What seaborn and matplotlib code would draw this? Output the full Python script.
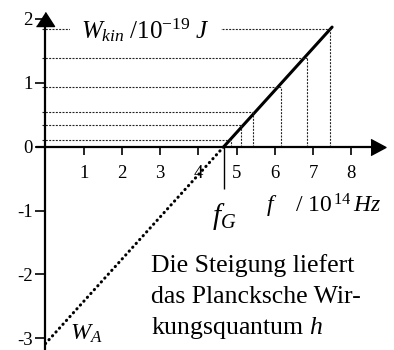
import pandas as pd
import seaborn as sns
import matplotlib.pyplot as plt

# Photoelectric effect: light frequency (10^14 Hz) vs. maximum kinetic energy (10^-19 J)
freq = [4.85, 5.11, 5.43, 6.15, 6.84, 7.44]
w_kin = [0.10, 0.34, 0.54, 0.93, 1.39, 1.83]

f_limit = 4.67     # threshold frequency f_G
w_work = -3.08     # work function W_A (intercept)
f_end = 7.50       # end of the drawn straight line

x_ticks = [1, 2, 3, 4, 5, 6, 7, 8]
y_ticks = [-3, -2, -1, 0, 1, 2]
y_tick_labels = ["-3", "-2", "-1", "0", "1", "2"]

sns.set_theme(style="white")
plt.rcParams["font.family"] = ["Liberation Serif", "DejaVu Serif"]
plt.rcParams["mathtext.fontset"] = "custom"
plt.rcParams["mathtext.rm"] = "Liberation Serif"
plt.rcParams["mathtext.it"] = "Liberation Serif:italic"
plt.rcParams["text.color"] = "black"

fig = plt.figure(figsize=(3.94, 3.5), dpi=100)
ax = fig.add_axes([0, 0, 1, 1])

# straight line W = h*f - W_A: solid above threshold, dotted extrapolation below
slope = -w_work / f_limit
solid = pd.DataFrame({"f": [f_limit, f_end], "W": [0.0, slope * (f_end - f_limit)]})
dotted = pd.DataFrame({"f": [0.0, f_limit], "W": [w_work, 0.0]})
sns.lineplot(data=solid, x="f", y="W", color="black", lw=2.2, ax=ax,
             solid_capstyle="round")
sns.lineplot(data=dotted, x="f", y="W", color="black", lw=2.2, ax=ax,
             linestyle=(0, (0.1, 1.6)), dash_capstyle="round")

# dashed guides to each measured point
guide = dict(color="#222222", lw=0.8, linestyles=(0, (1.8, 1.2)))
ax.hlines(w_kin, -0.08, freq, **guide)
ax.vlines(freq, 0, w_kin, **guide)

# threshold marker
ax.vlines(f_limit, -0.66, 0, color="black", lw=1.0)

ax.set_xlim(-1.19, 9.12)
ax.set_ylim(-3.18, 2.29)
ax.set_xlabel("")
ax.set_ylabel("")

# axes through the origin with arrow heads
for side in ["top", "right"]:
    ax.spines[side].set_visible(False)
for side in ["left", "bottom"]:
    ax.spines[side].set_position(("data", 0))
    ax.spines[side].set_color("black")
    ax.spines[side].set_linewidth(1.6)
ax.spines["left"].set_bounds(-3.4, 2.0)
ax.spines["bottom"].set_bounds(-0.22, 8.69)
head_right = [(-0.75, -0.8), (0.75, 0.0), (-0.75, 0.8)]
head_up = [(-0.9, -0.7), (0.9, -0.7), (0.0, 0.7)]
ax.plot(8.71, 0, marker=head_right, ms=11.5, color="black", clip_on=False)
ax.plot(0, 2.0, marker=head_up, ms=13, color="black", clip_on=False)

ax.set_xticks(x_ticks)
ax.set_yticks(y_ticks, y_tick_labels)
ax.tick_params(axis="x", bottom=True, direction="out", length=6, width=1.2,
               pad=7, labelsize=13.5, colors="black")
ax.tick_params(axis="y", left=True, direction="out", length=7.5, width=1.2,
               pad=1.5, labelsize=13.5, colors="black")

# annotations
ax.text(0.93, 1.82, r"$W_{kin}\ /10^{-19}\ J$", fontsize=18, ha="left", va="center",
        bbox=dict(facecolor="white", edgecolor="none", boxstyle="square,pad=0.45"))
ax.text(5.76, -1.036, r"$f\quad\ /\ 10^{\,14}\,Hz$", fontsize=17, ha="left", va="baseline")
ax.text(4.68, -1.10, r"$f_G$", fontsize=21, ha="center", va="center")
ax.text(0.64, -3.02, r"$W_A$", fontsize=17.5, ha="left", va="baseline")

ax.text(2.76, -1.958, "Die Steigung liefert", fontsize=18.5, ha="left", va="baseline")
ax.text(2.76, -2.442, "das Plancksche Wir-", fontsize=18.5, ha="left", va="baseline")
ax.text(2.76, -2.927, r"kungsquantum $h$", fontsize=18.5, ha="left", va="baseline")

fig.savefig("out.png", dpi=100)
